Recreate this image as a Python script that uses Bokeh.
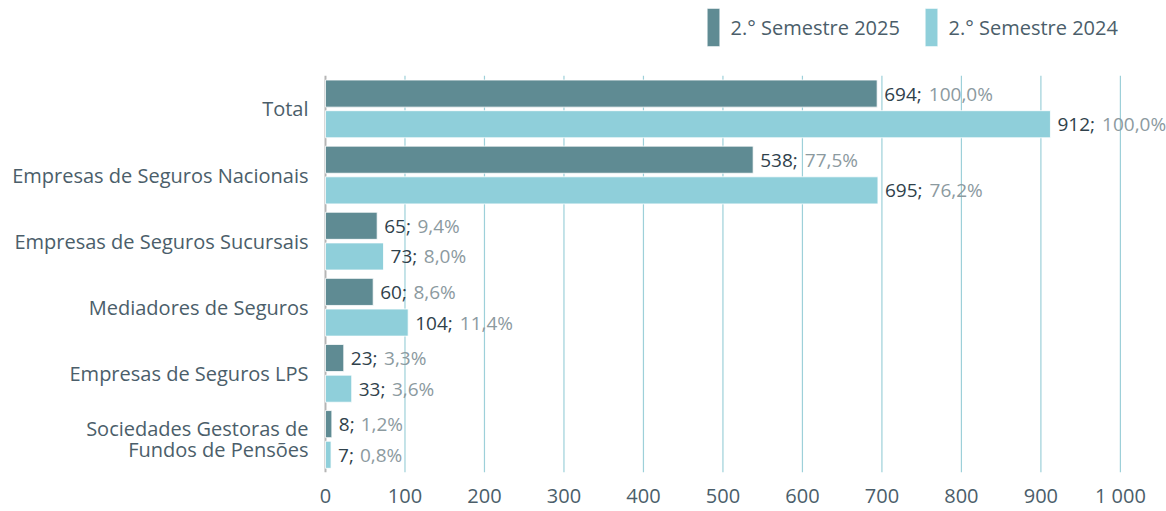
from bokeh.plotting import figure
from bokeh.models import Range1d, Legend, LegendItem, FixedTicker, ColumnDataSource
from bokeh.core.properties import value
from bokeh.embed import file_html
from bokeh.resources import INLINE

categories = ["Total", "Empresas de Seguros Nacionais", "Empresas de Seguros Sucursais",
              "Mediadores de Seguros", "Empresas de Seguros LPS",
              "Sociedades Gestoras de\nFundos de Pensões"]
series_names = ["2.° Semestre 2025", "2.° Semestre 2024"]
v2025 = [694, 538, 65, 60, 23, 8]
p2025 = ["100,0%", "77,5%", "9,4%", "8,6%", "3,3%", "1,2%"]
v2024 = [912, 695, 73, 104, 33, 7]
p2024 = ["100,0%", "76,2%", "8,0%", "11,4%", "3,6%", "0,8%"]
x_ticks = [0, 100, 200, 300, 400, 500, 600, 700, 800, 900, 1000]
x_tick_labels = ["0", "100", "200", "300", "400", "500", "600", "700", "800", "900", "1 000"]

FONT = "Open Sans"
FS = 19      # data labels
FSA = 20     # axis / legend labels
DARK = "#5f8b93"
LIGHT = "#8fcfda"
TXT = "#4b5e6a"
VAL = "#2f414b"
PCT = "#8c9a9f"

n = len(categories)
centers = [n - 0.5 - i for i in range(n)]  # top to bottom
OFF = 0.232
H = 0.41


def pct_offset(v):
    return 7 + len(str(v)) * 0.6 * FS + 0.55 * FS


src = ColumnDataSource(dict(
    yc=centers,
    y25=[c + OFF for c in centers], y24=[c - OFF for c in centers],
    v2025=v2025, v2024=v2024,
    l2025=[f"{v};" for v in v2025], l2024=[f"{v};" for v in v2024],
    p2025=p2025, p2024=p2024,
    o2025=[pct_offset(v) for v in v2025], o2024=[pct_offset(v) for v in v2024],
))

p = figure(width=1166, height=511,
           y_range=Range1d(0, 7.14), x_range=Range1d(-2.5, 1058),
           output_backend="svg", toolbar_location=None,
           min_border_left=323, min_border_right=0, min_border_top=0, min_border_bottom=20)
p.outline_line_color = None
p.background_fill_color = "white"

# grid lines (only over the category area)
grid_x = x_ticks[1:]
p.segment(x0=grid_x, x1=grid_x, y0=[0] * len(grid_x), y1=[n] * len(grid_x),
          line_color="#9dd0d9", line_width=1.2)
# vertical axis line at 0
p.segment(x0=[0], x1=[0], y0=[0], y1=[n], line_color="#b5b5b5", line_width=2)

r1 = p.hbar(y="y25", left=0, right="v2025", height=H,
            source=src, fill_color=DARK, line_color="white", line_width=0.8)
r2 = p.hbar(y="y24", left=0, right="v2024", height=H,
            source=src, fill_color=LIGHT, line_color="white", line_width=0.8)

for vcol, lcol, pcol, ocol, ycol in [("v2025", "l2025", "p2025", "o2025", "y25"),
                                      ("v2024", "l2024", "p2024", "o2024", "y24")]:
    p.text(x=vcol, y=ycol, text=lcol, source=src,
           x_offset=7, text_baseline="middle", text_align="left",
           text_font=value(FONT), text_font_size=f"{FS}px", text_font_style="normal",
           text_color=VAL)
    p.text(x=vcol, y=ycol, text=pcol, source=src,
           x_offset=ocol, text_baseline="middle", text_align="left",
           text_font=value(FONT), text_font_size=f"{FS}px", text_color=PCT)

# axes
p.yaxis.ticker = FixedTicker(ticks=centers)
p.yaxis.major_label_overrides = {c: lab for c, lab in zip(centers, categories)}
p.yaxis.axis_line_color = None
p.yaxis.major_tick_line_color = None
p.yaxis.minor_tick_line_color = None
p.yaxis.major_label_text_font = FONT
p.yaxis.major_label_text_font_size = f"{FSA}px"
p.yaxis.major_label_text_color = TXT
p.yaxis.major_label_text_line_height = 0.78
p.yaxis.major_label_standoff = 9

p.xaxis.axis_line_color = None
p.xaxis.major_tick_line_color = None
p.xaxis.minor_tick_line_color = None
p.xaxis.ticker = FixedTicker(ticks=x_ticks)
p.xaxis.major_label_overrides = {t: l for t, l in zip(x_ticks, x_tick_labels)}
p.xaxis.major_label_text_font = FONT
p.xaxis.major_label_text_font_size = f"{FSA}px"
p.xaxis.major_label_text_color = TXT
p.xaxis.major_label_standoff = 3

p.grid.grid_line_color = None

for r, name, x0 in [(r1, series_names[0], 381.5), (r2, series_names[1], 599.5)]:
    lg = Legend(items=[LegendItem(label=name, renderers=[r])], location=(x0, 421),
                orientation="horizontal", padding=0, margin=0, spacing=0,
                glyph_width=16, glyph_height=48, label_standoff=10,
                label_text_font=FONT, label_text_font_size=f"{FSA}px",
                label_text_color=TXT, border_line_color=None,
                background_fill_alpha=0)
    p.add_layout(lg)

open("out.html", "w").write(file_html(p, INLINE))
